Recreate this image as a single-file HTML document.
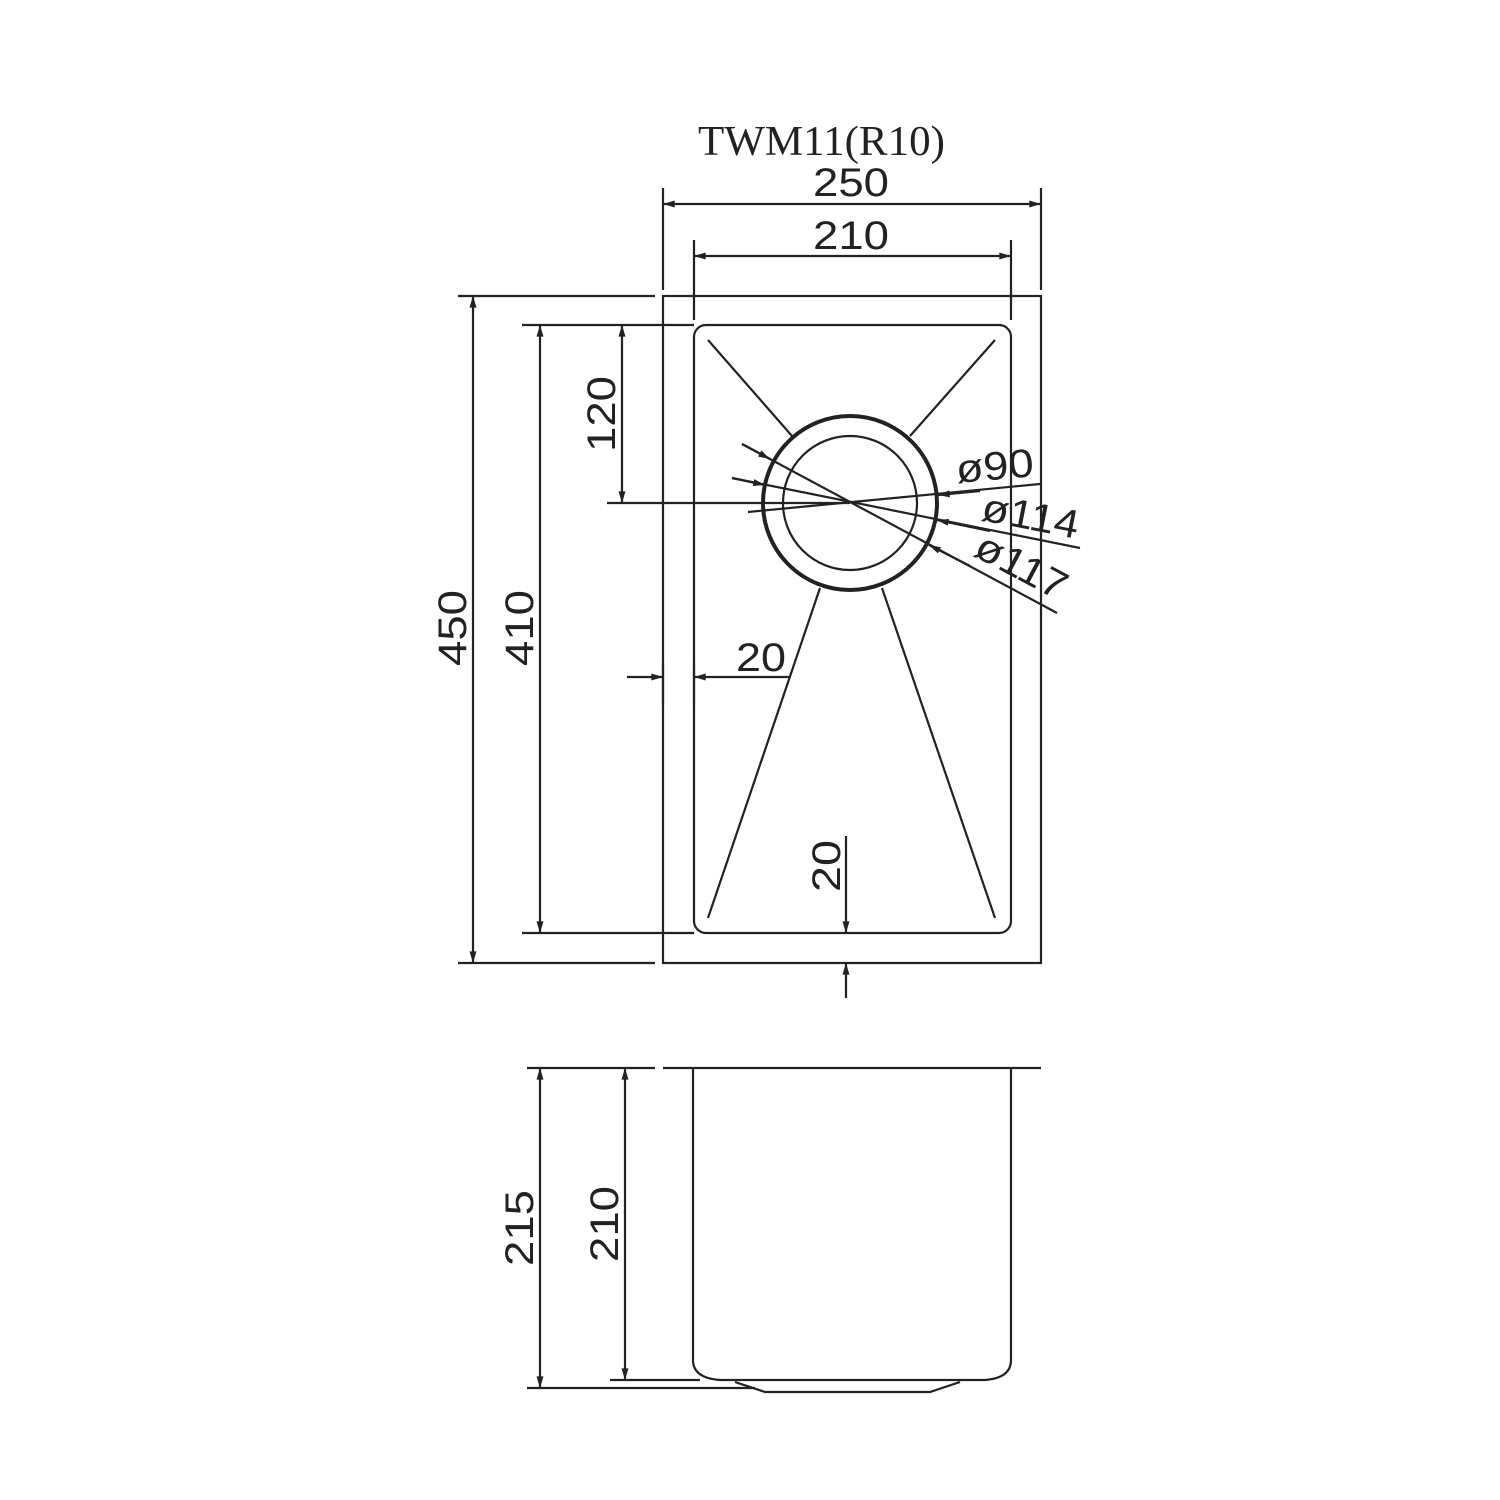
<!DOCTYPE html>
<html><head><meta charset="utf-8"><style>
html,body{margin:0;padding:0;background:#fff}
svg{display:block}
text{font-family:"Liberation Sans",sans-serif;fill:#222}
</style></head><body>
<svg width="1500" height="1500" viewBox="0 0 1500 1500" xmlns="http://www.w3.org/2000/svg">
<defs>
<marker id="a" viewBox="0 0 10 6" refX="10" refY="3" markerWidth="16" markerHeight="7" markerUnits="userSpaceOnUse" orient="auto-start-reverse"><path d="M0,0 L10,3 L0,6 z" fill="#222"/></marker>
</defs>
<g stroke="#222" stroke-width="2.2" fill="none">
<rect x="663" y="296" width="378" height="667"/>
<rect x="694" y="325" width="317" height="608" rx="12"/>
<line x1="663" y1="188" x2="663" y2="290"/>
<line x1="1041" y1="188" x2="1041" y2="290"/>
<line x1="663" y1="204" x2="1041" y2="204" marker-start="url(#a)" marker-end="url(#a)"/>
<line x1="694" y1="240" x2="694" y2="320"/>
<line x1="1011" y1="240" x2="1011" y2="320"/>
<line x1="694" y1="256" x2="1011" y2="256" marker-start="url(#a)" marker-end="url(#a)"/>
<line x1="458" y1="296" x2="655" y2="296"/>
<line x1="458" y1="963" x2="655" y2="963"/>
<line x1="473" y1="296" x2="473" y2="963" marker-start="url(#a)" marker-end="url(#a)"/>
<line x1="522" y1="325" x2="694" y2="325"/>
<line x1="522" y1="933" x2="694" y2="933"/>
<line x1="540" y1="325" x2="540" y2="933" marker-start="url(#a)" marker-end="url(#a)"/>
<line x1="622" y1="325" x2="622" y2="503" marker-start="url(#a)" marker-end="url(#a)"/>
<line x1="607" y1="503" x2="850" y2="503"/>
<circle cx="850" cy="503" r="87" stroke-width="4"/>
<circle cx="850" cy="503" r="67"/>
<line x1="708" y1="340" x2="792" y2="436"/>
<line x1="995" y1="340" x2="910" y2="436"/>
<line x1="820" y1="588" x2="708" y2="918"/>
<line x1="882" y1="588" x2="995" y2="918"/>
<line x1="742" y1="444" x2="1057" y2="613"/>
<line x1="732" y1="478" x2="1080" y2="548"/>
<line x1="748" y1="512" x2="1040" y2="484"/>
<line x1="742" y1="444" x2="770" y2="459" marker-end="url(#a)"/>
<line x1="732" y1="478" x2="765" y2="485" marker-end="url(#a)"/>
<line x1="980" y1="491" x2="938" y2="495" marker-end="url(#a)"/>
<line x1="990" y1="531" x2="937" y2="520" marker-end="url(#a)"/>
<line x1="970" y1="566" x2="929" y2="545" marker-end="url(#a)"/>
<line x1="663" y1="663" x2="663" y2="705"/>
<line x1="694" y1="663" x2="694" y2="705"/>
<line x1="627" y1="677" x2="663" y2="677" marker-end="url(#a)"/>
<line x1="790" y1="677" x2="694" y2="677" marker-end="url(#a)"/>
<line x1="846" y1="836" x2="846" y2="933" marker-end="url(#a)"/>
<line x1="846" y1="998" x2="846" y2="963" marker-end="url(#a)"/>
<line x1="527" y1="1068" x2="655" y2="1068"/>
<line x1="663" y1="1068" x2="1041" y2="1068"/>
<path d="M693,1068 L693,1360 Q693,1378 720,1380 L985,1380 Q1011,1378 1011,1360 L1011,1068"/>
<line x1="610" y1="1380" x2="700" y2="1380"/>
<line x1="527" y1="1388" x2="755" y2="1388"/>
<path d="M735,1382 L765,1392 L930,1392 L960,1382"/>
<line x1="540" y1="1068" x2="540" y2="1388" marker-start="url(#a)" marker-end="url(#a)"/>
<line x1="625" y1="1068" x2="625" y2="1380" marker-start="url(#a)" marker-end="url(#a)"/>
</g>
<text x="698" y="155" style="font-family:'Liberation Serif',serif" font-size="42" textLength="247" lengthAdjust="spacingAndGlyphs">TWM11(R10)</text>
<g font-size="40">
<text x="813" y="196" textLength="76" lengthAdjust="spacingAndGlyphs">250</text>
<text x="813" y="249" textLength="76" lengthAdjust="spacingAndGlyphs">210</text>
<text x="736" y="671" textLength="50" lengthAdjust="spacingAndGlyphs">20</text>
<text transform="translate(466,666) rotate(-90)" textLength="76" lengthAdjust="spacingAndGlyphs">450</text>
<text transform="translate(533,666) rotate(-90)" textLength="76" lengthAdjust="spacingAndGlyphs">410</text>
<text transform="translate(615,452) rotate(-90)" textLength="76" lengthAdjust="spacingAndGlyphs">120</text>
<text transform="translate(840,892) rotate(-90)" textLength="52" lengthAdjust="spacingAndGlyphs">20</text>
<text transform="translate(533,1266) rotate(-90)" textLength="76" lengthAdjust="spacingAndGlyphs">215</text>
<text transform="translate(618,1262) rotate(-90)" textLength="76" lengthAdjust="spacingAndGlyphs">210</text>
<text transform="translate(957,483) rotate(-5)" textLength="78" lengthAdjust="spacingAndGlyphs">ø90</text>
<text transform="translate(980,520) rotate(11)" textLength="98" lengthAdjust="spacingAndGlyphs">ø114</text>
<text transform="translate(972,555) rotate(28)" textLength="98" lengthAdjust="spacingAndGlyphs">ø117</text>
</g>
</svg>
</body></html>
